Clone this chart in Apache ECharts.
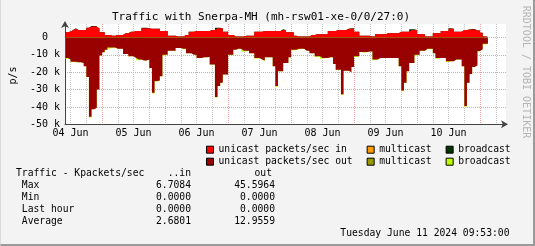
<!DOCTYPE html>
<html><head><meta charset="utf-8">
<script src="https://cdn.jsdelivr.net/npm/echarts@6/dist/echarts.min.js"></script>
<style>
html,body{margin:0;padding:0;background:#F3F3F3;}
#wrap{width:535px;height:246px;box-sizing:border-box;border-right:2px solid #9A9A9A;border-bottom:2px solid #9A9A9A;border-left:1px solid #DADADA;}
#c{width:100%;height:100%;}
</style></head><body><div id="wrap"><div id="c"></div></div>
<script>
// time: hours since 04 Jun 00:00; graph spans 04 Jun 09:53 .. 11 Jun 09:53
const X_MIN = 9 + 53/60;
const X_MAX = X_MIN + 168;
const START_HOUR = 10;            // first hourly sample
const dayLabels = ['04 Jun','05 Jun','06 Jun','07 Jun','08 Jun','09 Jun','10 Jun'];
const yTickValues = [-50,-40,-30,-20,-10,0];   // k packets/s

// hourly samples, k packets/s
const unicastIn = [3,3.5,4.4,5,4.4,4.4,4.4,4.4,5.7,6.3,
 6.3,6.3,5.3,3,3,1.5,1.5,1.1,1.1,1.5,
 1.5,1.5,2.5,2.5,3.4,3.4,3.8,3.8,3.8,5.3,
 5.3,5.3,5,5,5,5,3.8,3.8,3.8,1.1,
 1.1,1.1,0.6,0.6,0.6,1.5,1.5,3.4,3.4,3.8,
 3.8,3.8,3.8,3.8,3.8,4.4,4.4,5.3,5.3,5.3,
 3.4,3.4,1.5,1.5,0.6,0.6,0.6,0.6,1.1,1.1,
 1.1,1.1,3.4,3.4,3.4,3.8,3.8,3.8,3.8,3.8,
 3.8,3.8,4.4,4.4,3,3,3,1,0.6,0.6,
 0.6,0.6,0.6,1.5,1.5,1.9,1.9,1.9,1.9,1.9,
 3.8,3.8,3.8,4.4,4.4,4.4,4.4,5,5,5,
 3.4,3.4,1.1,1.1,1.1,1.1,0.6,0.6,1.9,1.9,
 1.9,1.9,2.5,2.5,2.5,2.5,2.5,3.4,3.4,3.4,
 3.4,4.4,4.4,4.4,1.9,1.9,1.9,0.6,0.6,0.6,
 2.5,2.5,2.5,3.8,3.8,3.8,5,5,3.4,3.4,
 3.4,4.4,4.4,4.6,4.6,4.6,4,4,2.7,0.6,
 0.6];
const multicastIn = [];   // no visible multicast traffic
const broadcastIn = [0,0,0,.35,0,0,0,0,0,.35,
 .35,.35,0,0,0,0,0,0,0,0,
 0,0,0,0,0,0,0,0,0,.35,
 .35,0,0,0,0,0,0,0,0,0,
 0,0,0,0,0,0,0,0,0,0,
 0,0,0,0,0,0,0,.35,.35,0,
 0,0,0,0,0,0,0,0,0,0,
 0,0,0,0,0,0,0,0,0,0,
 0,0,.35,0,0,0,0,0,0,0,
 0,0,0,0,0,0,0,0,0,0,
 0,0,0,0,0,0,0,0,.35,.35,
 0,0,0,0,0,0,0,0,0,0,
 0,0,0,0,0,0,0,0,0,0,
 0,.35,.35,0,0,0,0,0,0,0,
 0,0,0,0,0,0,.35,0,0,0,
 0,0,0,0,.35,.35,0,0,0,0,
 0];
const unicastOut = [-11.8,-12.7,-14,-14,-14.3,-14.3,-14.7,-16.6,-22.8,-45.6,
 -41.3,-40.4,-29.9,-10.3,-8.5,-7,-5.7,-5.7,-5.7,-6.5,
 -6.5,-6.5,-9.5,-9.5,-10.8,-10.8,-11.8,-12.7,-12.7,-13.3,
 -13.3,-12.7,-17.5,-31.8,-25.1,-24.8,-22.3,-9.9,-9.9,-7.6,
 -7.6,-7.6,-6.1,-6.1,-6.5,-6.5,-9,-9,-9.9,-9.9,
 -11.8,-11.8,-11.4,-11.4,-11.2,-15.6,-15.6,-34.3,-28,-26,
 -21.3,-21.3,-9.9,-9.9,-7,-6.5,-6.5,-7.6,-7.6,-7.6,
 -9,-9,-11.8,-11.8,-12.7,-13.3,-11.4,-11.4,-11.4,-16.6,
 -28,-19.4,-19.4,-14.7,-14.7,-11.4,-7,-7,-6.5,-6.5,
 -6.5,-7.6,-7.6,-9,-9,-10.8,-10.8,-11.8,-11.8,-11.8,
 -11.4,-11.4,-15.2,-18.5,-18.5,-32.7,-19.1,-19.1,-20,-17,
 -10.8,-10.8,-8.4,-8.4,-8.4,-8,-8,-12.7,-12.7,-11.8,
 -11.8,-11.8,-11.8,-11.8,-11.8,-11.8,-11.8,-16.6,-30.5,-26,
 -19.4,-14.7,-14.7,-9.9,-9.9,-7.6,-7.6,-6.5,-6.5,-6.5,
 -9,-11.8,-11.8,-11.8,-11.8,-13.7,-13.7,-13.7,-12.7,-12.7,
 -12.7,-16.6,-39.4,-26,-21,-17,-16,-7.8,-6.8,-3.6,
 -3.6];
const multicastOut = [];  // no visible multicast traffic
const broadcastOut = [-.45,0,0,-.45,0,0,0,0,0,-.45,
 0,0,0,0,0,0,-.45,-.45,0,0,
 0,0,0,0,0,0,0,-.45,0,0,
 0,0,0,-.45,-.45,0,0,-.45,0,0,
 0,-.45,0,0,-.45,0,0,0,0,0,
 0,0,0,0,0,0,0,-.45,0,0,
 0,0,0,-.45,0,0,0,-.45,-.45,0,
 0,0,-.45,0,0,-.45,0,0,0,0,
 -.45,0,0,0,0,0,-.45,0,-.45,0,
 0,0,0,0,0,-.45,0,-.45,0,0,
 0,0,0,0,0,-.45,0,0,0,0,
 -.45,0,0,-.45,0,0,0,-.45,0,0,
 0,0,0,0,0,0,0,0,-.45,0,
 0,0,0,-.45,0,0,0,0,-.45,0,
 0,-.45,0,0,0,-.45,0,0,0,0,
 0,0,-.45,0,0,0,0,-.45,0,-.45,
 0];

const statRows = ['Max','Min','Last hour','Average'];
const statIn = ['6.7084','0.0000','0.0000','2.6801'];
const statOut = ['45.5964','0.0000','0.0000','12.9559'];
const titleText = 'Traffic with Snerpa-MH (mh-rsw01-xe-0/0/27:0)';
const dateText = 'Tuesday June 11 2024 09:53:00';

const MONO = '"DejaVu Sans Mono"';
const C = {uin:'#FF0000', min:'#FF9900', bin:'#003300', uout:'#990000', mout:'#999900', bout:'#BBFF00'};

// layers are stacked by drawing cumulative totals first, then the lower layers over them
function addArrays(...arrs){
  const base = arrs[0];
  return base.map((v,i)=>arrs.reduce((s,a)=>s + (a.length ? a[i] : 0), 0));
}
function toSteps(arr){
  const d = arr.map((v,i)=>[START_HOUR+i, v]);
  if (arr.length) d.push([START_HOUR+arr.length, arr[arr.length-1]]);
  return d;
}
function area(name, arr, color){
  return {type:'line', name, data:toSteps(arr), step:'end', symbol:'none', showSymbol:false,
    lineStyle:{width:0}, areaStyle:{color, opacity:1, origin:'auto'}, itemStyle:{color},
    xAxisIndex:0, yAxisIndex:0, animation:false, silent:true, z:2};
}
// grid positions (hours since 04 Jun 00:00)
const minorTicks = [], majorTicks = [], noonTicks = [];
for (let h = 6; h < X_MAX; h += 6) {
  if (h <= X_MIN) continue;
  if (h % 24 === 0) majorTicks.push(h); else minorTicks.push(h);
  if (h % 24 === 12) noonTicks.push(h);
}

const legendText = {fontFamily:MONO, fontSize:9.7, color:'#000', lineHeight:12};
const names = {'unicast packets/sec in':'unicast packets/sec in ','multicast in':'multicast','broadcast in':'broadcast',
  'unicast packets/sec out':'unicast packets/sec out','multicast out':'multicast','broadcast out':'broadcast'};
function legendFor(data, top){
  return {data, left:205, top, orient:'horizontal', padding:0, itemGap:14, itemWidth:7, itemHeight:7, icon:'rect',
    selectedMode:false, itemStyle:{borderColor:'#000', borderWidth:1}, textStyle:legendText,
    formatter:(n)=>names[n]};
}

const txt = (text, x, y, align, size, extra) => Object.assign({type:'text', x, y, silent:true,
  style:{text, font:size+'px '+MONO, fill:'#000', textAlign:align, textVerticalAlign:'middle'}}, extra||{});

const graphics = [
  txt(titleText, 260, 17, 'center', 11),
  txt('p/s', 12, 75.5, 'center', 10, {rotation:Math.PI/2}),
  txt('RRDTOOL / TOBI OETIKER', 525, 72, 'center', 10, {rotation:-Math.PI/2}),
  txt('Traffic - Kpackets/sec', 15, 173.7, 'left', 9.7),
  txt('..in', 190, 173.7, 'right', 9.7),
  txt('out', 271, 173.7, 'right', 9.7),
  txt(dateText, 508.5, 233.7, 'right', 9.7)
];
graphics[2].style.fill = '#B4B4B4';
statRows.forEach((r,i)=>{
  const y = 185.7 + i*12;
  graphics.push(txt(r, 20.8, y, 'left', 9.7));
  graphics.push(txt(statIn[i], 190, y, 'right', 9.7));
  graphics.push(txt(statOut[i], 274, y, 'right', 9.7));
});

const chart = echarts.init(document.getElementById('c'));
chart.setOption({
  animation:false,
  backgroundColor:'#F3F3F3',
  grid:{left:64, right:27, top:24, bottom:119.7, containLabel:false, outerBoundsMode:'none',
        show:true, backgroundColor:'#FFFFFF', borderWidth:0},
  xAxis:[
    {type:'value', min:X_MIN, max:X_MAX, position:'bottom', z:1,
     axisLine:{show:true, onZero:false, lineStyle:{color:'#444', width:1}, symbol:['none','arrow'], symbolSize:[6,7], symbolOffset:[0,2]},
     axisTick:{show:false, customValues:minorTicks}, axisLabel:{show:false},
     splitLine:{show:true, lineStyle:{color:'#C4C4C4', width:1, type:[1,1]}}},
    {type:'value', min:X_MIN, max:X_MAX, position:'bottom', z:0,
     axisLine:{show:false}, axisTick:{show:false, customValues:majorTicks},
     axisLabel:{show:true, customValues:noonTicks, formatter:(v)=>dayLabels[Math.round((v-12)/24)],
       fontFamily:MONO, fontSize:10, color:'#000', margin:4},
     splitLine:{show:true, lineStyle:{color:'#E8A0A0', width:1, type:[1,1]}}}
  ],
  yAxis:[{type:'value', min:-50, max:7.8, position:'left', z:1,
     axisLine:{show:true, onZero:false, lineStyle:{color:'#444', width:1}, symbol:['none','arrow'], symbolSize:[6,7], symbolOffset:[0,3]},
     axisTick:{show:false, customValues:[-40,-30,-20,-10,0]},
     axisLabel:{customValues:yTickValues, formatter:(v)=> v===0 ? '0  ' : v+' k',
       fontFamily:MONO, fontSize:10, color:'#000', margin:5},
     splitLine:{show:true, lineStyle:{color:'#E8A0A0', width:1, type:[1,1]}}}],
  legend:[
    legendFor(['unicast packets/sec in','multicast in','broadcast in'], 143.7),
    legendFor(['unicast packets/sec out','multicast out','broadcast out'], 155.7)
  ],
  series:[
    area('broadcast in', addArrays(unicastIn, multicastIn, broadcastIn), C.bin),
    area('multicast in', multicastIn.length ? addArrays(unicastIn, multicastIn) : [], C.min),
    area('unicast packets/sec in', unicastIn, C.uin),
    area('broadcast out', addArrays(unicastOut, multicastOut, broadcastOut), C.bout),
    area('multicast out', multicastOut.length ? addArrays(unicastOut, multicastOut) : [], C.mout),
    area('unicast packets/sec out', unicastOut, C.uout)
  ],
  graphic:graphics
});
</script></body></html>
